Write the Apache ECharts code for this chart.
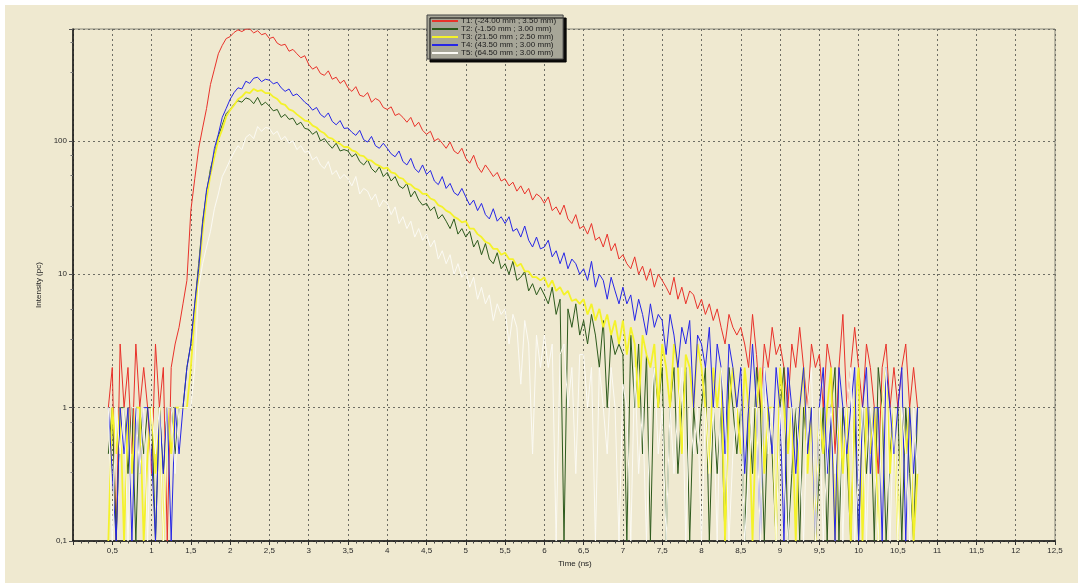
<!DOCTYPE html>
<html>
<head>
<meta charset="utf-8">
<script src="https://cdn.jsdelivr.net/npm/echarts@6/dist/echarts.min.js"></script>
<style>
  html, body { margin: 0; padding: 0; background: #ffffff; }
  #bg { position: absolute; left: 5px; top: 5px; width: 1073px; height: 578px; background: #efe9d0; }
  #chart { position: absolute; left: 0; top: 0; width: 1078px; height: 583px; }
</style>
</head>
<body>
<div id="bg"></div>
<div id="chart"></div>
<script>
// Sample times: start and bin width (ns)
const T_START = 0.45;
const T_STEP = 0.05;

const seriesNames = [
  'T1: (-24.00 mm ; 3.50 mm)',
  'T2: (-1.50 mm ; 3.00 mm)',
  'T3: (21.50 mm ; 2.50 mm)',
  'T4: (43.50 mm ; 3.00 mm)',
  'T5: (64.50 mm ; 3.00 mm)'
];
const seriesColors = ['#e8322a', '#2d5a1c', '#f4f22a', '#2626e6', '#fbfaf4'];
const seriesWidths = [1, 1, 1.8, 1, 1];

// Values (0.1 = zero count, drawn at the axis floor)
const t1Red = [
  1, 2, 0.1, 3, 1, 2, 0.45, 3, 1, 2, 1, 0.32, 3, 1, 2, 0.1, 2, 3, 4,
  6, 9, 30, 52, 88, 125, 175, 265, 345, 450, 520, 585,
  605, 650, 680, 660, 688, 690, 645, 670, 625, 640,
  585, 600, 540, 520, 530, 470, 485, 450, 420, 435,
  375, 345, 360, 320, 310, 335, 290, 300, 270, 285,
  250, 235, 255, 220, 215, 230, 195, 208, 200, 178,
  172, 180, 155, 160, 150, 138, 150, 128, 138, 120,
  112, 118, 100, 104, 96, 88, 98, 84, 80, 88,
  74, 68, 78, 64, 58, 66, 60, 54, 58, 50,
  52, 46, 49, 42, 46, 40, 44, 36, 40, 38,
  34, 38, 30, 32, 28, 33, 26, 24, 28, 22,
  23, 20, 24, 18, 19, 16, 20, 15, 17, 13,
  14, 12, 11, 13.5, 10, 11.5, 9, 11, 8, 10,
  9, 8, 7, 9.5, 6.5, 8, 6, 7.5, 7, 5.5,
  6.5, 5, 6, 4.5, 5.5, 4, 3, 5, 4, 3.5,
  4, 3, 2, 5, 2.5, 1, 3, 2, 4, 2.5,
  3, 2, 1, 3, 2, 4, 2, 1, 3, 2,
  2.5, 1, 3, 2, 0.45, 2, 5, 1, 2, 4,
  2, 1, 3, 2, 1, 0.32, 2, 3, 1, 2,
  1, 2, 3, 1, 2, 1
];
const t2Green = [
  0.45, 1, 0.1, 1, 1, 0.32, 1, 0.1, 1, 0.45, 1, 1, 0.1, 1, 0.32, 1, 1, 0.45, 1,
  1, 2, 3, 6, 12, 25, 41, 62, 80, 108, 132, 160,
  172, 188, 200, 195, 210, 205, 190, 212, 185, 195,
  182, 168, 172, 150, 158, 145, 148, 132, 138, 124,
  122, 112, 118, 100, 104, 95, 88, 96, 84, 86,
  84, 76, 80, 70, 66, 72, 62, 58, 64, 54,
  58, 50, 54, 46, 44, 48, 38, 42, 36, 33,
  34, 30, 32, 26, 28, 25, 22, 26, 20, 22,
  19, 21, 16, 18, 14, 17, 13, 12, 14.5, 11,
  12, 10, 12.5, 9, 9.5, 10.5, 7.5, 8.5, 7, 8,
  7, 6, 8, 5, 6.5, 0.1, 5.5, 4, 6, 3.5,
  4.5, 3, 5, 3.5, 2, 4.5, 1, 3.5, 2.5, 3,
  2.5, 0.1, 3.5, 1, 3, 0.45, 2.5, 0.1, 2, 1,
  2, 0.1, 1, 2, 0.32, 1, 2, 0.1, 1, 0.45,
  1, 2, 0.1, 1, 0.32, 1, 0.1, 2, 1, 0.45,
  1, 0.1, 1, 0.32, 2, 1, 0.1, 1, 0.45, 0.1,
  1, 2, 0.1, 0.32, 1, 0.1, 1, 0.45, 1, 0.1,
  0.32, 1, 0.1, 1, 2, 0.1, 1, 0.45, 0.1, 1,
  0.1, 1, 0.32, 1, 0.1, 2, 1, 0.1, 0.45, 1,
  1, 0.1, 1, 0.32, 0.1, 1
];
const t3Yellow = [
  0.1, 1, 0.45, 1, 0.1, 1, 0.32, 1, 1, 0.1, 0.45, 1, 0.32, 1, 0.1, 1, 0.45, 1, 1,
  1, 1, 2, 5, 10, 21, 37, 56, 76, 102, 122, 152,
  170, 185, 205, 215, 232, 228, 245, 236, 240, 228,
  228, 214, 206, 190, 186, 172, 168, 158, 150, 142,
  140, 130, 126, 118, 114, 106, 104, 98, 95, 90,
  90, 85, 83, 78, 77, 72, 71, 67, 65, 62,
  63, 58, 57, 53, 52, 48, 47, 44, 43, 40,
  40, 37, 36, 33, 32, 30, 29, 27, 26, 24.5,
  25, 22, 22, 20, 19, 17.5, 17, 15.5, 15.5, 14,
  14.5, 13, 13, 11.5, 12, 10.5, 10.5, 9.5, 9.5, 9,
  9.5, 8, 9, 7.5, 8, 7, 7.5, 6.3, 6.5, 6,
  6.5, 5, 6, 4.5, 5.5, 4, 5, 3.5, 4.5, 3,
  4.5, 2.5, 4, 3, 1, 3.5, 2.5, 2, 3, 1,
  3, 2, 1, 3, 2, 0.45, 2.5, 2, 1, 3,
  2, 1, 0.32, 2, 1, 2, 0.1, 1, 2, 1,
  0.45, 2, 1, 0.1, 1, 2, 0.32, 1, 1, 0.1,
  2, 1, 0.45, 1, 0.1, 1, 2, 0.32, 1, 0.1,
  1, 0.45, 1, 2, 0.1, 1, 0.32, 1, 0.1, 1,
  2, 0.1, 1, 0.45, 1, 0.1, 1, 2, 0.32, 1,
  0.1, 1, 0.45, 1, 0.1, 0.32
];
const t4Blue = [
  1, 0.32, 0.1, 1, 0.45, 1, 0.1, 1, 0.32, 1, 1, 0.45, 0.1, 1, 0.32, 1, 0.1, 1, 0.45,
  1, 2, 3, 6, 11, 24, 43, 58, 88, 112, 150, 175,
  205, 230, 250, 245, 280, 270, 295, 300, 278, 290,
  285, 268, 275, 250, 235, 245, 218, 225, 210, 195,
  185, 170, 178, 158, 150, 162, 140, 132, 142, 124,
  125, 116, 110, 120, 102, 98, 108, 92, 88, 96,
  88, 80, 76, 84, 70, 66, 74, 62, 58, 66,
  56, 60, 50, 47, 54, 44, 48, 41, 39, 44,
  38, 33, 36, 30, 34, 28, 26, 31, 25, 27,
  24, 27, 21, 22, 19, 23, 18, 16, 19, 15.5,
  16, 18, 13.5, 15, 12, 14.5, 11, 13, 12, 10,
  11, 9, 12.5, 8, 10, 9, 6.5, 9.5, 7.5, 6,
  8, 6, 7, 4.5, 6.5, 5, 3.5, 6, 4, 5,
  4.5, 2.5, 5, 3.5, 2, 4, 3, 4.5, 1, 3.5,
  3, 2, 4, 1, 3, 2, 0.45, 3, 2, 1,
  2, 0.32, 1, 3, 1, 0.1, 2, 1, 0.45, 2,
  1, 0.1, 2, 1, 0.32, 1, 2, 0.45, 1, 0.1,
  1, 2, 0.32, 1, 0.1, 2, 1, 0.45, 1, 2,
  0.1, 1, 2, 0.32, 1, 1, 0.1, 2, 1, 0.45,
  1, 2, 0.1, 1, 0.32, 1
];
const t5White = [
  1, 0.1, 1, 0.45, 1, 0.1, 1, 1, 0.32, 1, 0.1, 1, 0.45, 1, 0.1, 1, 1, 0.32, 1,
  1, 1, 1, 2, 8, 12, 16, 21, 31, 40, 54, 62,
  72, 82, 92, 86, 106, 112, 104, 128, 118, 126,
  124, 112, 118, 102, 108, 96, 100, 86, 92, 82,
  84, 72, 76, 66, 62, 70, 56, 60, 52, 56,
  52, 46, 54, 40, 44, 42, 36, 40, 32, 36,
  34, 28, 32, 24, 27, 22, 25, 19, 22, 18,
  20, 16, 18, 13, 15, 12, 14, 10, 12, 9.5,
  10.5, 8, 9.5, 6.5, 8, 6, 7, 4.5, 6, 5,
  5.5, 3, 5, 4, 1.5, 4.5, 3, 0.45, 3.5, 2,
  3.5, 2, 3, 0.1, 2.5, 3, 1, 2, 0.32, 2.5,
  2.5, 1, 2, 0.1, 2, 1, 0.45, 2, 1, 0.1,
  1.5, 1, 0.1, 2, 0.32, 1, 0.1, 1, 2, 0.45,
  1, 0.1, 1, 0.32, 1, 2, 0.1, 1, 0.45, 1,
  0.1, 1, 0.32, 1, 0.1, 2, 1, 0.1, 0.45, 1,
  1, 0.1, 0.32, 1, 1, 0.1, 2, 0.45, 1, 0.1,
  1, 0.32, 0.1, 1, 1, 0.45, 0.1, 1, 2, 0.1,
  1, 0.1, 0.45, 1, 0.32, 1, 0.1, 1, 2, 0.1,
  0.32, 1, 0.1, 1, 0.45, 0.1, 1, 2, 0.1, 1,
  0.1, 1, 0.45, 0.1, 1, 0.32
];

const allValues = [t1Red, t2Green, t3Yellow, t4Blue, t5White];

function withTimes(vals) {
  return vals.map((v, i) => [Math.round((T_START + i * T_STEP) * 100) / 100, v]);
}

const FONT = 'Liberation Sans, Arial, sans-serif';
const chart = echarts.init(document.getElementById('chart'), null, { renderer: 'canvas' });

const option = {
  backgroundColor: 'transparent',
  animation: false,
  textStyle: { fontFamily: FONT },
  grid: {
    left: 73, top: 29, right: 23, bottom: 42,
    show: true, borderColor: '#86867a', borderWidth: 1, backgroundColor: 'transparent'
  },
  legend: {
    orient: 'vertical',
    left: 427, top: 15,
    icon: 'rect',
    itemWidth: 26, itemHeight: 2, itemGap: 0,
    padding: [2, 7, 2, 5],
    backgroundColor: '#a7a698',
    borderColor: '#444', borderWidth: 1,
    shadowColor: 'rgba(0,0,0,0.95)', shadowOffsetX: 3, shadowOffsetY: 3, shadowBlur: 0,
    textStyle: { fontSize: 8, color: '#1c1c1c', fontFamily: FONT, padding: [0, 0, 0, -2] },
    data: seriesNames
  },
  xAxis: {
    type: 'value', min: 0, max: 12.5, interval: 0.5,
    name: 'Time (ns)', nameLocation: 'middle', nameGap: 16,
    nameTextStyle: { fontSize: 8, color: '#222', padding: [0, 0, 0, 22] },
    axisLine: { show: true, onZero: false, lineStyle: { color: '#111', width: 1.5 } },
    axisTick: { show: true, length: 4, lineStyle: { color: '#333' } },
    minorTick: { show: true, splitNumber: 5, length: 2.5, lineStyle: { color: '#444' } },
    axisLabel: {
      fontSize: 8, color: '#2a2a2a', margin: 6, showMaxLabel: true,
      formatter: v => (v === 0 ? '' : String(v).replace('.', ','))
    },
    splitLine: { show: true, lineStyle: { color: '#6e6e64', type: [2, 3], width: 1 } }
  },
  yAxis: {
    type: 'log', logBase: 10, min: 0.1, max: 690,
    name: 'Intensity (pc)', nameLocation: 'middle', nameGap: 28, nameRotate: 90,
    nameTextStyle: { fontSize: 8, color: '#222' },
    axisLine: { show: true, lineStyle: { color: '#111', width: 1.5 } },
    axisTick: { show: true, length: 4, lineStyle: { color: '#555' } },
    minorTick: { show: true, splitNumber: 4, length: 2.5, lineStyle: { color: '#777' } },
    axisLabel: {
      fontSize: 8, color: '#2a2a2a', margin: 6,
      formatter: v => {
        const l = Math.log10(v);
        if (Math.abs(l - Math.round(l)) > 1e-6) return '';
        return String(Math.round(v * 10) / 10).replace('.', ',');
      }
    },
    splitLine: { show: true, lineStyle: { color: '#6e6e64', type: [2, 3], width: 1 } }
  },
  series: allValues.map((vals, k) => ({
    name: seriesNames[k],
    type: 'line',
    showSymbol: false,
    symbol: 'none',
    color: seriesColors[k],
    lineStyle: { width: seriesWidths[k], color: seriesColors[k] },
    data: withTimes(vals)
  }))
};
chart.setOption(option);
</script>
</body>
</html>
